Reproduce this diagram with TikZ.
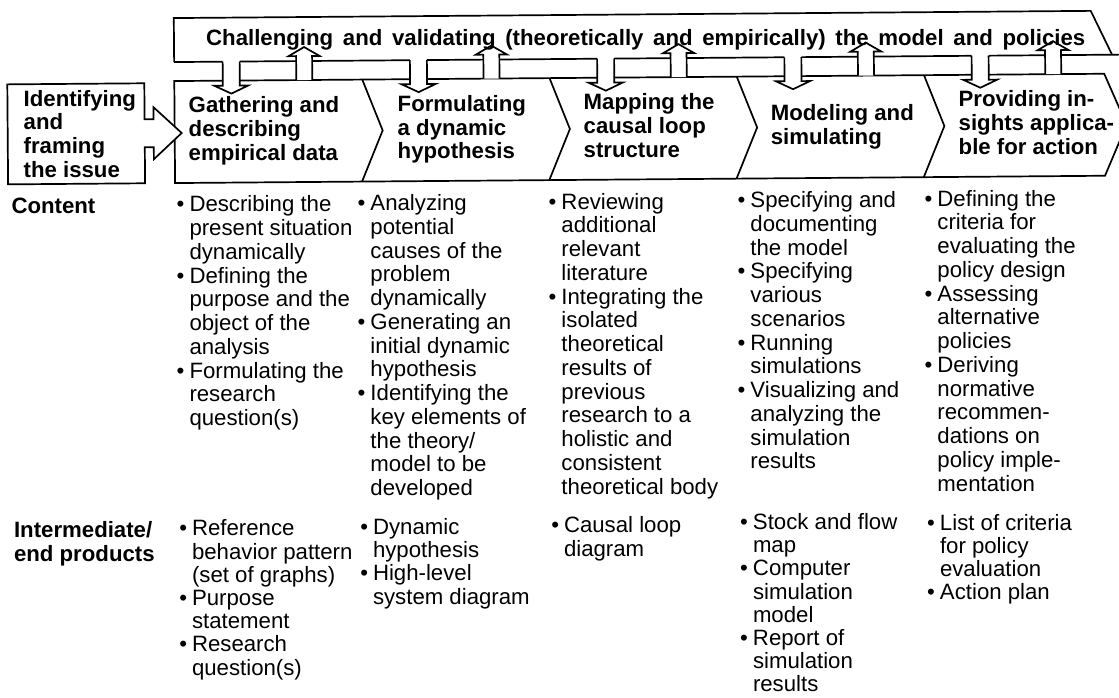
\documentclass[tikz,border=0pt]{standalone}
\usepackage{fontspec}
\setmainfont{Liberation Sans}
\newcommand{\Col}[1]{\vtop{\baselineskip=23.75pt\lineskiplimit=-100pt\lineskip=0pt\relax #1}}
\newcommand{\ColB}[1]{\vtop{\baselineskip=23.2pt\lineskiplimit=-100pt\lineskip=0pt\relax #1}}
\newcommand{\Bu}[1]{\hbox{\llap{\textbullet\hspace{5pt}}#1}}
\newcommand{\Li}[1]{\hbox{#1}}
\tikzset{
  ln/.style={line width=1.7pt, line join=miter},
  wbox/.style={ln, fill=white},
  hdr/.style={anchor=base west, inner sep=0pt, font=\bfseries\fontsize{22.2pt}{23.75pt}\selectfont},
  txt/.style={anchor=base west, inner sep=0pt, font=\fontsize{22.2pt}{23.75pt}\selectfont},
}
\begin{document}
\begin{tikzpicture}[x=1pt,y=-1pt]
\useasboundingbox (0,0) rectangle (1119,697);
\begin{scope}[rotate around={0.45:(180,300)}]
% main chevron row
\draw[ln] (176,81) -- (1106,81) -- (1128,132) -- (1106,183) -- (176,183) -- cycle;
\foreach \i in {0,...,3}{
  \pgfmathsetmacro\t{364+187.25*\i}
  \draw[ln] (\t,81) -- (\t+20,132) -- (\t-1,183);
}
% banner
\draw[ln] (176,62) -- (176,18) -- (1093,18) -- (1114,62);
\draw[ln] (176,62) -- (224.5,62);
\foreach \i in {0,...,3}{
  \pgfmathsetmacro\d{233+187.25*\i}
  \pgfmathsetmacro\u{306+187.25*\i}
  \pgfmathsetmacro\n{233+187.25*(\i+1)}
  \draw[ln] (\d+8.5,62) -- (\u-8,62);
  \draw[ln] (\u+8,62) -- (\n-8.5,62);
}
\draw[ln] (1219,62) -- (1063,62);
\draw[ln] (990.5,62) -- (1047,62);
% down arrows
\foreach \i in {0,...,4}{
  \pgfmathsetmacro\d{233+187.25*\i}
  \draw[wbox] (\d-8.5,62) -- (\d-8.5,86) -- (\d-17,86) -- (\d,94) -- (\d+17,86) -- (\d+8.5,86) -- (\d+8.5,62);
}
% up arrows
\foreach \i in {0,...,4}{
  \pgfmathsetmacro\u{306+187.25*\i}
  \draw[wbox] (\u-8,81) -- (\u-8,57) -- (\u-15.5,57) -- (\u,48) -- (\u+15.5,57) -- (\u+8,57) -- (\u+8,81);
}
% identifying box with arrow
\draw[wbox] (146,83) -- (9,83) -- (9,183) -- (146,183) -- (146,147) -- (155,147) -- (155,159) -- (183,133) -- (155,107) -- (155,119) -- (146,119) -- cycle;

% texts
\node[hdr] (banner) at (208,46) {\makebox[879pt][s]{Challenging and validating (theoretically and empirically) the model and policies}};
\node[hdr] (ident) at (25,105) {\Col{\Li{Identifying}\Li{and}\Li{framing}\Li{the issue}}};
\node[hdr] (h1) at (190,113) {\Col{\Li{Gathering and}\Li{describing}\Li{empirical data}}};
\node[hdr] (h2) at (399,113) {\Col{\Li{Formulating}\Li{a dynamic}\Li{hypothesis}}};
\node[hdr] (h3) at (585,113) {\Col{\Li{Mapping the}\Li{causal loop}\Li{structure}}};
\node[hdr] (h4) at (772,125) {\Col{\Li{Modeling and}\Li{simulating}}};
\node[hdr] (h5) at (960,113) {\Col{\Li{Providing in-}\Li{sights applica-}\Li{ble for action}}};

\node[hdr] (lcontent) at (12,212) {Content};
\node[txt] (c1) at (190,212) {\Col{\Bu{Describing the}\Li{present situation}\Li{dynamically}\Bu{Defining the}\Li{purpose and the}\Li{object of the}\Li{analysis}\Bu{Formulating the}\Li{research}\Li{question(s)}}};
\node[txt] (c2) at (371,212) {\Col{\Bu{Analyzing}\Li{potential}\Li{causes of the}\Li{problem}\Li{dynamically}\Bu{Generating an}\Li{initial dynamic}\Li{hypothesis}\Bu{Identifying the}\Li{key elements of}\Li{the theory/}\Li{model to be}\Li{developed}}};
\node[txt] (c3) at (562,212) {\Col{\Bu{Reviewing}\Li{additional}\Li{relevant}\Li{literature}\Bu{Integrating the}\Li{isolated}\Li{theoretical}\Li{results of}\Li{previous}\Li{research to a}\Li{holistic and}\Li{consistent}\Li{theoretical body}}};
\node[txt] (c4) at (751,212) {\Col{\Bu{Specifying and}\Li{documenting}\Li{the model}\Bu{Specifying}\Li{various}\Li{scenarios}\Bu{Running}\Li{simulations}\Bu{Visualizing and}\Li{analyzing the}\Li{simulation}\Li{results}}};
\node[txt] (c5) at (938,212) {\Col{\Bu{Defining the}\Li{criteria for}\Li{evaluating the}\Li{policy design}\Bu{Assessing}\Li{alternative}\Li{policies}\Bu{Deriving}\Li{normative}\Li{recommen-}\Li{dations on}\Li{policy imple-}\Li{mentation}}};

\node[hdr] (lprod) at (12,536) {\Col{\Li{Intermediate/}\Li{end products}}};
\node[txt] (p1) at (190,536) {\ColB{\Bu{Reference}\Li{behavior pattern}\Li{(set of graphs)}\Bu{Purpose}\Li{statement}\Bu{Research}\Li{question(s)}}};
\node[txt] (p2) at (371,536) {\ColB{\Bu{Dynamic}\Li{hypothesis}\Bu{High-level}\Li{system diagram}}};
\node[txt] (p3) at (562,536) {\ColB{\Bu{Causal loop}\Li{diagram}}};
\node[txt] (p4) at (751,534) {\ColB{\Bu{Stock and flow}\Li{map}\Bu{Computer}\Li{simulation}\Li{model}\Bu{Report of}\Li{simulation}\Li{results}}};
\node[txt] (p5) at (938,536) {\ColB{\Bu{List of criteria}\Li{for policy}\Li{evaluation}\Bu{Action plan}}};
\end{scope}
\end{tikzpicture}
\end{document}
